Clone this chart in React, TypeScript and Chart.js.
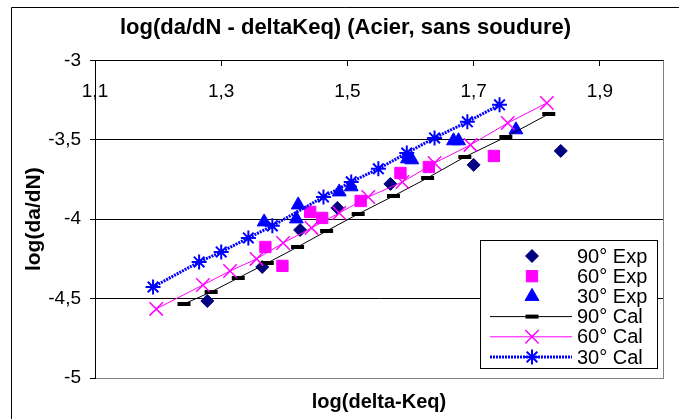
import React, { useEffect, useRef } from 'react';
import { Chart, registerables } from 'chart.js';
import { drawPoint } from 'chart.js/helpers';

Chart.register(...registerables);

const FONT = 'Liberation Sans, Arial, Helvetica, sans-serif';

const TITLE = 'log(da/dN - deltaKeq) (Acier, sans soudure)';
const X_TITLE = 'log(delta-Keq)';
const Y_TITLE = 'log(da/dN)';
const X_TICKS = [1.1, 1.3, 1.5, 1.7, 1.9];
const X_MIN = 1.1;
const X_MAX = 2.0;
const Y_MIN = -5;
const Y_MAX = -3;
const Y_STEP = 0.5;

const SERIES_NAMES = ['90° Exp', '60° Exp', '30° Exp', '90° Cal', '60° Cal', '30° Cal'];

const EXP90_X = [1.278, 1.365, 1.425, 1.484, 1.568, 1.7, 1.838];
const EXP90_Y = [-4.515, -4.301, -4.068, -3.929, -3.778, -3.658, -3.57];

const EXP60_X = [1.37, 1.397, 1.441, 1.46, 1.521, 1.584, 1.629, 1.732];
const EXP60_Y = [-4.175, -4.294, -3.954, -3.992, -3.885, -3.709, -3.671, -3.602];

const EXP30_X = [1.368, 1.419, 1.422, 1.487, 1.506, 1.595, 1.602, 1.668, 1.676, 1.767];
const EXP30_Y = [-4.017, -3.998, -3.91, -3.828, -3.796, -3.62, -3.626, -3.506, -3.506, -3.437];

const CAL90_X = [1.241, 1.284, 1.327, 1.373, 1.421, 1.467, 1.517, 1.573, 1.627, 1.686, 1.751, 1.819];
const CAL90_Y = [-4.534, -4.458, -4.37, -4.276, -4.175, -4.074, -3.967, -3.854, -3.74, -3.608, -3.482, -3.337];

const CAL60_X = [1.197, 1.271, 1.314, 1.356, 1.398, 1.443, 1.487, 1.533, 1.587, 1.638, 1.695, 1.754, 1.816];
const CAL60_Y = [-4.565, -4.414, -4.326, -4.25, -4.15, -4.055, -3.961, -3.86, -3.766, -3.646, -3.532, -3.394, -3.268];

const CAL30_X = [1.192, 1.265, 1.3, 1.343, 1.381, 1.462, 1.506, 1.549, 1.594, 1.638, 1.69, 1.741];
const CAL30_Y = [-4.427, -4.269, -4.206, -4.118, -4.042, -3.86, -3.765, -3.683, -3.583, -3.488, -3.387, -3.28];

const pts = (xs: number[], ys: number[]) => xs.map((x, i) => ({ x, y: ys[i] }));
const fmt = (v: number | string) => String(Math.round(Number(v) * 10) / 10).replace('.', ',');

const frameAndLegend = {
  id: 'frameAndLegend',
  afterDraw(chart: any) {
    const ctx = chart.ctx as CanvasRenderingContext2D;
    const ca = chart.chartArea;
    ctx.save();
    // right border of plot area
    ctx.strokeStyle = '#808080';
    ctx.lineWidth = 1;
    ctx.beginPath();
    ctx.moveTo(Math.round(ca.right) + 0.5, ca.top);
    ctx.lineTo(Math.round(ca.right) + 0.5, ca.bottom);
    ctx.stroke();
    // outer chart border
    ctx.strokeStyle = '#000';
    ctx.beginPath();
    ctx.moveTo(11.5, chart.height);
    ctx.lineTo(11.5, 7.5);
    ctx.lineTo(chart.width, 7.5);
    ctx.stroke();

    // legend
    const bx = 480.5, by = 240.5, bw = 177, bh = 128;
    ctx.fillStyle = '#fff';
    ctx.fillRect(bx, by, bw, bh);
    ctx.strokeStyle = '#000';
    ctx.strokeRect(bx, by, bw, bh);
    const symX = 532;
    const lineX0 = 490, lineX1 = 572;
    const textX = 577;
    chart.data.datasets.forEach((ds: any, i: number) => {
      const y = 256 + i * 20.2;
      if (ds.showLine !== false) {
        ctx.save();
        ctx.strokeStyle = ds.borderColor;
        ctx.lineWidth = ds.borderWidth;
        ctx.setLineDash(ds.borderDash || []);
        ctx.beginPath();
        ctx.moveTo(lineX0, y);
        ctx.lineTo(lineX1, y);
        ctx.stroke();
        ctx.restore();
      }
      ctx.save();
      ctx.fillStyle = ds.pointBackgroundColor;
      ctx.strokeStyle = ds.pointBorderColor;
      ctx.lineWidth = ds.pointBorderWidth;
      ctx.setLineDash([]);
      drawPoint(ctx, { pointStyle: ds.pointStyle, radius: ds.pointRadius, rotation: 0, borderWidth: ds.pointBorderWidth }, symX, y);
      ctx.restore();
      ctx.fillStyle = '#000';
      ctx.font = `20px ${FONT}`;
      ctx.textAlign = 'left';
      ctx.textBaseline = 'middle';
      ctx.fillText(ds.label, textX, y + 1);
    });
    ctx.restore();
  },
};

export default function App() {
  const ref = useRef<HTMLCanvasElement | null>(null);

  useEffect(() => {
    if (!ref.current) return;
    const chart = new Chart(ref.current, {
      type: 'scatter',
      data: {
        datasets: [
          {
            label: SERIES_NAMES[0], data: pts(EXP90_X, EXP90_Y), showLine: false, order: 6,
            pointStyle: 'rectRot', pointRadius: 6.5, pointBackgroundColor: '#000080', pointBorderColor: '#000080', pointBorderWidth: 1,
            borderColor: '#000080', backgroundColor: '#000080',
          },
          {
            label: SERIES_NAMES[1], data: pts(EXP60_X, EXP60_Y), showLine: false, order: 5,
            pointStyle: 'rect', pointRadius: 8, pointBackgroundColor: '#FF00FF', pointBorderColor: '#FF00FF', pointBorderWidth: 1,
            borderColor: '#FF00FF', backgroundColor: '#FF00FF',
          },
          {
            label: SERIES_NAMES[2], data: pts(EXP30_X, EXP30_Y), showLine: false, order: 4,
            pointStyle: 'triangle', pointRadius: 8, pointBackgroundColor: '#0000FF', pointBorderColor: '#0000FF', pointBorderWidth: 1,
            borderColor: '#0000FF', backgroundColor: '#0000FF',
          },
          {
            label: SERIES_NAMES[3], data: pts(CAL90_X, CAL90_Y), showLine: true, order: 3,
            borderColor: '#000', borderWidth: 1, backgroundColor: '#000',
            pointStyle: 'line', pointRadius: 6.5, pointBackgroundColor: '#000', pointBorderColor: '#000', pointBorderWidth: 4,
          },
          {
            label: SERIES_NAMES[4], data: pts(CAL60_X, CAL60_Y), showLine: true, order: 2,
            borderColor: '#FF00FF', borderWidth: 1, backgroundColor: '#FF00FF',
            pointStyle: 'crossRot', pointRadius: 9.5, pointBackgroundColor: '#FF00FF', pointBorderColor: '#FF00FF', pointBorderWidth: 1.5,
          },
          {
            label: SERIES_NAMES[5], data: pts(CAL30_X, CAL30_Y), showLine: true, order: 1,
            borderColor: '#0000FF', borderWidth: 3, borderDash: [2, 1], backgroundColor: '#0000FF',
            pointStyle: 'star', pointRadius: 7.5, pointBackgroundColor: '#0000FF', pointBorderColor: '#0000FF', pointBorderWidth: 2,
          },
        ] as any,
      },
      options: {
        animation: false,
        responsive: false,
        devicePixelRatio: 1,
        layout: { padding: { left: 12, right: 0, top: 0, bottom: 0 } },
        plugins: {
          legend: { display: false },
          tooltip: { enabled: false },
          title: {
            display: true,
            text: TITLE,
            color: '#000',
            font: { family: FONT, size: 22, weight: 'bold' },
            padding: { top: 15, bottom: 19 },
          },
        },
        scales: {
          x: {
            type: 'linear',
            min: X_MIN,
            max: X_MAX,
            position: { y: Y_MAX } as any,
            afterBuildTicks: (s: any) => { s.ticks = X_TICKS.map((v) => ({ value: v })); },
            ticks: { callback: (v: any) => fmt(v), color: '#000', font: { family: FONT, size: 19 }, padding: 15, maxRotation: 0 },
            grid: { drawOnChartArea: false, drawTicks: true, tickLength: 5, color: '#000' },
            border: { color: '#000', width: 1 },
          },
          x2: {
            type: 'linear',
            position: 'bottom',
            min: X_MIN,
            max: X_MAX,
            ticks: { display: false },
            grid: { display: false, drawTicks: false },
            border: { color: '#808080', width: 1 },
            title: {
              display: true, text: X_TITLE, color: '#000',
              font: { family: FONT, size: 20, weight: 'bold' },
              padding: { top: 0, bottom: 5 },
            },
            afterFit: (s: any) => { s.height = 41; },
          },
          y: {
            type: 'linear',
            position: 'left',
            min: Y_MIN,
            max: Y_MAX,
            ticks: { stepSize: Y_STEP, callback: (v: any) => fmt(v), color: '#000', font: { family: FONT, size: 19 }, padding: 9 },
            grid: {
              color: (c: any) => (c.tick && c.tick.value === Y_MIN ? '#808080' : '#000'),
              tickColor: '#000',
              tickLength: 5,
              lineWidth: 1,
            },
            border: { color: '#000', width: 1 },
            title: {
              display: true, text: Y_TITLE, color: '#000',
              font: { family: FONT, size: 21, weight: 'bold' },
              padding: { top: 10, bottom: 0 },
            },
            afterFit: (s: any) => { s.width = 83; },
          },
          y2: {
            type: 'linear',
            position: 'right',
            min: Y_MIN,
            max: Y_MAX,
            ticks: { display: false },
            grid: { display: false, drawTicks: false },
            border: { display: false },
            afterFit: (s: any) => { s.width = 16; },
          },
        },
      } as any,
      plugins: [frameAndLegend],
    });
    return () => chart.destroy();
  }, []);

  return (
    <div style={{ position: 'absolute', left: 0, top: 0, width: 679, height: 419, background: '#fff' }}>
      <canvas ref={ref} width={679} height={419} style={{ display: 'block' }} />
    </div>
  );
}
